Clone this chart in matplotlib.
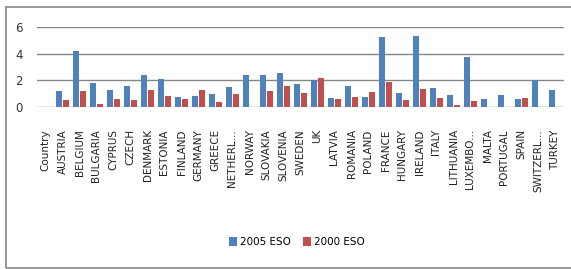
import matplotlib
matplotlib.use("Agg")
import matplotlib.pyplot as plt
import numpy as np
from matplotlib.patches import Rectangle

categories = ["Country", "AUSTRIA", "BELGIUM", "BULGARIA", "CYPRUS", "CZECH", "DENMARK",
              "ESTONIA", "FINLAND", "GERMANY", "GREECE", "NETHERL...", "NORWAY", "SLOVAKIA",
              "SLOVENIA", "SWEDEN", "UK", "LATVIA", "ROMANIA", "POLAND", "FRANCE", "HUNGARY",
              "IRELAND", "ITALY", "LITHUANIA", "LUXEMBO...", "MALTA", "PORTUGAL", "SPAIN",
              "SWITZERL...", "TURKEY"]
eso_2005 = [0, 1.2, 4.23, 1.8, 1.28, 1.58, 2.42, 2.11, 0.75, 0.82, 0.96, 1.48, 2.39, 2.39,
            2.54, 1.71, 1.99, 0.65, 1.56, 0.73, 5.26, 1.03, 5.33, 1.41, 0.88, 3.75, 0.58,
            0.88, 0.58, 1.99, 1.26]
eso_2000 = [0, 0.53, 1.2, 0.23, 0.6, 0.53, 1.28, 0.83, 0.59, 1.27, 0.35, 0.96, 0, 1.18,
            1.56, 1.03, 2.16, 0.58, 0.73, 1.1, 1.86, 0.5, 1.33, 0.65, 0.13, 0.43, 0,
            0, 0.65, 0, 0]
yticks = [0, 2, 4, 6]

W, H = 571, 269
fig = plt.figure(figsize=(W / 100, H / 100), dpi=100)
fig.patch.set_facecolor("white")

# outer chart frame
fig.patches.append(Rectangle((6 / W, 1 - 268 / H), (W + 5 - 6) / W, (268 - 7) / H,
                             transform=fig.transFigure, fill=False,
                             edgecolor="#868686", linewidth=1.2))

ax = fig.add_axes([37 / W, 1 - 107 / H, (564 - 37) / W, (107 - 27) / H])
x = np.arange(len(categories))
bw = 0.34
ax.bar(x - bw / 2 - 0.02, eso_2005, width=bw, color="#4F81BD", label="2005 ESO", zorder=3)
ax.bar(x + bw / 2 + 0.02, eso_2000, width=bw, color="#C0504D", label="2000 ESO", zorder=3)

ax.set_xlim(-0.5, len(categories) - 0.5)
ax.set_ylim(0, 6)
ax.set_yticks(yticks)
ax.set_yticklabels([str(v) for v in yticks], fontsize=8.5, color="#333333")
ax.yaxis.grid(True, color="#868686", linewidth=1.0, zorder=0)
ax.set_axisbelow(True)
for s in ax.spines.values():
    s.set_visible(False)
ax.tick_params(axis="both", length=0)
ax.tick_params(axis="y", pad=10)
ax.set_xticks(x)
ax.set_xticklabels(categories, rotation=90, fontsize=7.5, color="#222222",
                   fontstretch="expanded")
ax.tick_params(axis="x", pad=16)
ax.set_facecolor("white")

fig.legend(loc="center", bbox_to_anchor=(0.52, 1 - 242 / H), ncol=2, frameon=False,
           fontsize=7.5, handlelength=0.7, handleheight=0.9, handletextpad=0.3,
           columnspacing=1.2)

fig.savefig("out.png", dpi=100)
